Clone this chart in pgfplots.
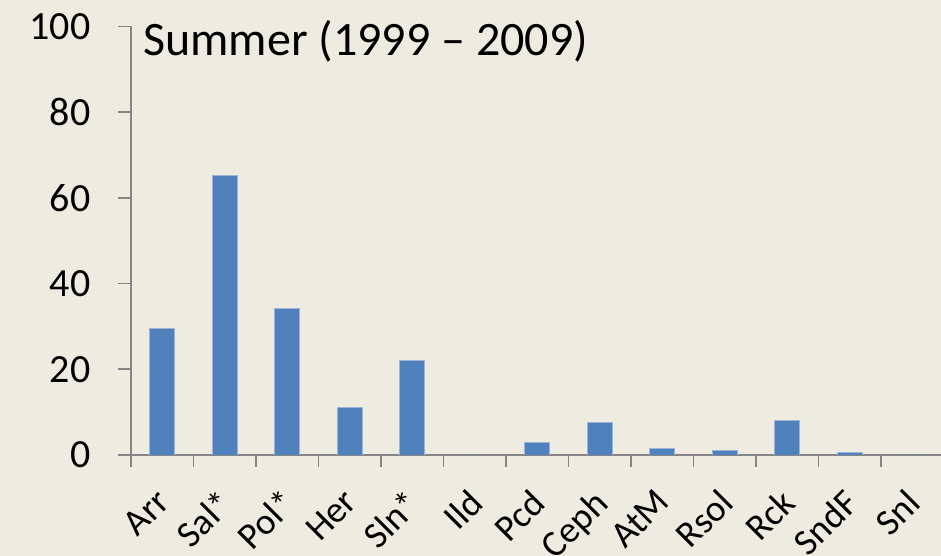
\documentclass[border=0pt]{standalone}
\usepackage{pgfplots}
\pgfplotsset{compat=1.18}
\usepackage{fontspec}
\setmainfont{Carlito}
\definecolor{bgtan}{HTML}{EEECE1}
\definecolor{barblue}{HTML}{4F81BD}
\definecolor{baredge}{HTML}{9DB4D8}
\definecolor{axgray}{HTML}{868686}
\begin{document}
\begin{tikzpicture}[x=1pt,y=1pt]
\fill[bgtan] (0,0) rectangle (941,556);
\useasboundingbox (0,0) rectangle (941,556);
\begin{axis}[
    at={(131pt,101pt)}, anchor=south west,
    scale only axis,
    width=812.5pt, height=428.5pt,
    xmin=-0.5, xmax=12.5,
    ymin=0, ymax=100,
    axis x line*=bottom, axis y line*=left,
    axis line style={axgray, line width=1.6pt, -},
    xtick={0,...,12},
    xticklabels={Arr,Sal*,Pol*,Her,Sln*,Ild,Pcd,Ceph,AtM,Rsol,Rck,SndF,Snl},
    minor xtick={-0.5,0.5,...,12.5},
    ytick={0,20,...,100},
    tick align=outside,
    major tick length=13pt,
    minor tick length=12pt,
    major x tick style={draw=none},
    minor x tick style={axgray, line width=1.6pt},
    major y tick style={axgray, line width=1.6pt},
    /pgf/number format/assume math mode=true,
    yticklabel style={font=\fontsize{40}{48}\selectfont, anchor=east, xshift=-24pt},
    xticklabel style={font=\fontsize{37}{44}\selectfont, rotate=45, anchor=north east, inner sep=0pt, xshift=-19pt, yshift=-8pt},
    ymajorgrids=false,
]
\addplot[ybar, bar width=25pt, fill=barblue, draw=baredge, line width=0.8pt]
    coordinates {
    (0,29.5)(1,65.2)(2,34.3)(3,11.0)(4,22.0)(5,0)(6,2.9)(7,7.5)(8,1.6)(9,1.0)(10,8.1)(11,0.5)(12,0)
    };
\end{axis}
\node[anchor=base west, inner sep=0pt, font=\fontsize{48}{58}\selectfont] at (143,500) {Summer (1999 – 2009)};
\end{tikzpicture}
\end{document}
